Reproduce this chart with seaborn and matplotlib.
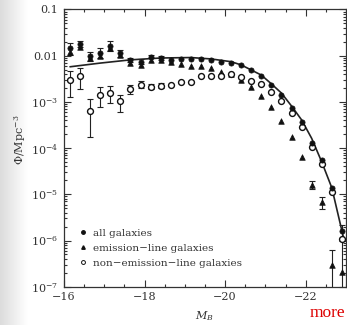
import numpy as np
import seaborn as sns
import matplotlib.pyplot as plt
from matplotlib.lines import Line2D
from matplotlib.ticker import FixedLocator, FixedFormatter, MultipleLocator, LogLocator, NullFormatter

# absolute magnitude bins (M_B)
mag = [-16.15, -16.4, -16.65, -16.9, -17.15, -17.4, -17.65, -17.9, -18.15, -18.4,
       -18.65, -18.9, -19.15, -19.4, -19.65, -19.9, -20.15, -20.4, -20.65, -20.9,
       -21.15, -21.4, -21.65, -21.9, -22.15, -22.4, -22.65, -22.9]

# log10(phi / Mpc^-3)
log_all = [-1.84, -1.75, -2.01, -1.94, -1.79, -1.95, -2.09, -2.13, -2.02, -2.05,
           -2.09, -2.08, -2.08, -2.07, -2.09, -2.13, -2.15, -2.21, -2.31, -2.43,
           -2.63, -2.84, -3.13, -3.44, -3.90, -4.26, -4.87, -5.79]
log_emis = [-1.93, -1.82, -2.06, -2.00, -1.84, -1.99, -2.15, -2.21, -2.10, -2.10,
            -2.13, -2.18, -2.22, -2.22, -2.27, -2.36, -2.40, -2.53, -2.67, -2.87,
            -3.12, -3.41, -3.75, -4.19, -4.80, -5.16, -6.53, -6.68]
log_non = [-2.53, -2.44, -3.19, -2.85, -2.80, -2.98, -2.73, -2.63, -2.67, -2.65,
           -2.63, -2.58, -2.57, -2.45, -2.45, -2.44, -2.40, -2.46, -2.54, -2.61,
           -2.79, -2.97, -3.23, -3.54, -3.98, -4.34, -4.94, -5.97]

# error bars in dex (lower, upper)
all_lo = [0.15, 0.06, 0.10, 0.10, 0.10, 0.08, 0.05, 0.05, 0.04, 0.04] + [0] * 18
all_hi = [0.12, 0.06, 0.10, 0.10, 0.10, 0.08, 0.05, 0.05, 0.04, 0.04] + [0] * 18
non_lo = [0.36, 0.29, 0.56, 0.27, 0.23, 0.23, 0.10, 0.08, 0.05, 0.05] + [0] * 18
non_hi = [0.20, 0.17, 0.25, 0.18, 0.14, 0.13, 0.10, 0.08, 0.05, 0.05] + [0] * 18
emis_lo = [0] * 24 + [0.09, 0.16, 2.0, 2.0]
emis_hi = [0] * 24 + [0.09, 0.10, 0.33, 1.01]

# Schechter fit
curve_mag = [-16.15, -16.9, -17.65, -18.4, -19.15, -19.65, -20.15, -20.4, -20.65,
             -20.9, -21.15, -21.4, -21.65, -21.9, -22.15, -22.4, -22.65, -22.9, -22.95]
curve_log = [-2.24, -2.16, -2.09, -2.05, -2.04, -2.07, -2.13, -2.20, -2.31,
             -2.42, -2.61, -2.81, -3.09, -3.39, -3.79, -4.30, -4.86, -5.79, -5.98]

sns.set_style("ticks")
plt.rcParams['font.family'] = ['DejaVu Serif', 'DejaVu Sans']
plt.rcParams['mathtext.fontset'] = 'dejavuserif'

fig = plt.figure(figsize=(3.47, 3.25), dpi=100)
# scanned-page shadow fading in from the left edge
shade = fig.add_axes([0, 0, 0.08, 1], zorder=-1)
shade.imshow(np.linspace(0.86, 1.0, 50)[None, :], cmap='gray', vmin=0, vmax=1,
             aspect='auto', extent=[0, 1, 0, 1])
shade.axis('off')

ax = fig.add_axes([0.1844, 0.1178, 0.8125, 0.853])
ax.patch.set_alpha(0)

m = np.array(mag)


def draw_errors(logv, lo, hi):
    logv, lo, hi = np.array(logv), np.array(lo), np.array(hi)
    k = (lo > 0) | (hi > 0)
    y = 10 ** logv[k]
    ax.errorbar(m[k], y, yerr=[y - 10 ** (logv[k] - lo[k]), 10 ** (logv[k] + hi[k]) - y],
                fmt='none', ecolor='#222222', elinewidth=0.8, capsize=2, capthick=0.8, zorder=2)


draw_errors(log_all, all_lo, all_hi)
draw_errors(log_non, non_lo, non_hi)
draw_errors(log_emis, emis_lo, emis_hi)

sns.lineplot(x=curve_mag, y=10 ** np.array(curve_log), ax=ax, color='#222222',
             lw=1.2, sort=False, estimator=None, zorder=3)
sns.scatterplot(x=mag, y=10 ** np.array(log_emis), ax=ax, marker='^', s=16,
                color='#111111', edgecolor='#111111', linewidth=0.5, zorder=4)
sns.scatterplot(x=mag, y=10 ** np.array(log_non), ax=ax, marker='o', s=18,
                facecolor='white', edgecolor='#111111', linewidth=1.0, zorder=4)
sns.scatterplot(x=mag, y=10 ** np.array(log_all), ax=ax, marker='o', s=14,
                color='#111111', edgecolor='#111111', linewidth=0.5, zorder=5)

ax.set_yscale('log')
ax.set_xlim(-16, -23)
ax.set_ylim(1e-7, 0.1)

ax.xaxis.set_major_locator(FixedLocator([-16, -18, -20, -22]))
ax.xaxis.set_major_formatter(FixedFormatter(['\u221216', '\u221218', '\u221220', '\u221222']))
ax.xaxis.set_minor_locator(MultipleLocator(0.5))
ax.yaxis.set_major_locator(FixedLocator([1e-7, 1e-6, 1e-5, 1e-4, 1e-3, 1e-2, 1e-1]))
ax.yaxis.set_major_formatter(FixedFormatter(['$10^{-7}$', '$10^{-6}$', '$10^{-5}$', '$10^{-4}$',
                                             '$10^{-3}$', '0.01', '0.1']))
ax.yaxis.set_minor_locator(LogLocator(base=10, subs=np.arange(2, 10), numticks=20))
ax.yaxis.set_minor_formatter(NullFormatter())
ax.tick_params(which='both', direction='in', top=True, right=True, color='#333333',
               labelsize=8, labelcolor='#333333', width=0.8)
ax.tick_params(which='major', length=5, pad=4)
ax.tick_params(which='minor', length=2.5)
for s in ax.spines.values():
    s.set_linewidth(0.9)
    s.set_color('#333333')

ax.set_xlabel('$M_B$', fontsize=8, color='#333333', labelpad=5)
ax.set_ylabel('$\\Phi$/Mpc$^{-3}$', fontsize=8, color='#333333')
ax.yaxis.set_label_coords(-0.128, 0.53)

handles = [
    Line2D([], [], ls='none', marker='o', ms=2.5, color='#111111'),
    Line2D([], [], ls='none', marker='^', ms=2.5, color='#111111'),
    Line2D([], [], ls='none', marker='o', ms=2.8, mfc='white', mec='#111111', mew=0.7),
]
ax.legend(handles, ['all galaxies', 'emission\u2212line galaxies', 'non\u2212emission\u2212line galaxies'],
          loc='lower left', bbox_to_anchor=(0.02, 0.035), frameon=False, fontsize=7.5,
          handlelength=0.8, handletextpad=0.5, labelspacing=0.55, labelcolor='#333333')

fig.text(0.995, 0.012, 'more', color='#dd0000', fontsize=12.5, ha='right', va='bottom',
         family=['Liberation Serif', 'DejaVu Serif'])

fig.savefig('out.png', dpi=100)
